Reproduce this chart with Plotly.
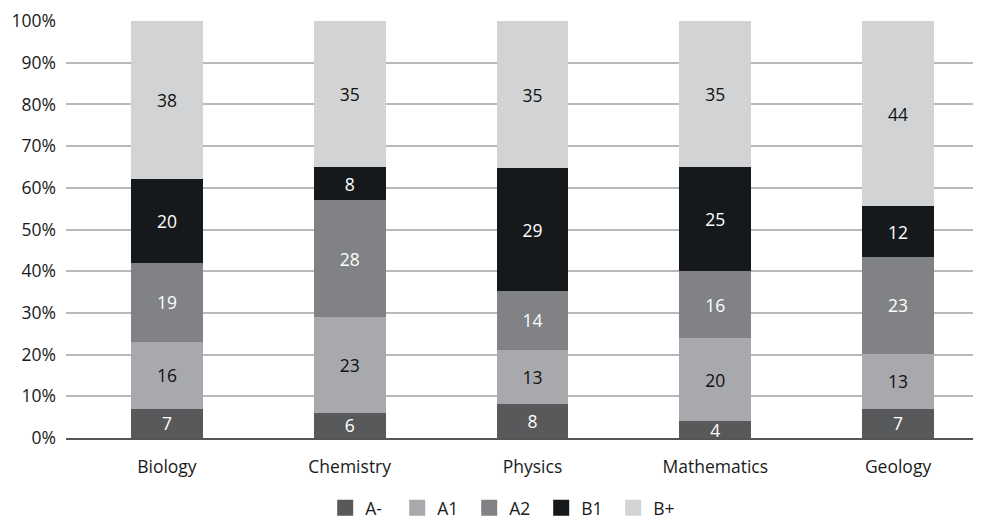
import plotly.graph_objects as go

subjects = ["Biology", "Chemistry", "Physics", "Mathematics", "Geology"]
grades = ["A-", "A1", "A2", "B1", "B+"]
a_minus = [7, 6, 8, 4, 7]
a1 = [16, 23, 13, 20, 13]
a2 = [19, 28, 14, 16, 23]
b1 = [20, 8, 29, 25, 12]
b_plus = [38, 35, 35, 35, 44]
series = [a_minus, a1, a2, b1, b_plus]
colors = ["#58595b", "#a7a9ac", "#808285", "#16191c", "#d1d3d4"]
text_colors = ["white", "#111111", "white", "white", "#111111"]
yticks = list(range(0, 101, 10))

FONT = "Open Sans"
FS = 17.5

fig = go.Figure()
for name, vals, c, tc in zip(grades, series, colors, text_colors):
    fig.add_trace(go.Bar(
        x=subjects, y=vals, name=name, marker=dict(color=c, line=dict(width=0)),
        text=[str(v) for v in vals], textposition="inside", insidetextanchor="middle",
        textfont=dict(color=tc, size=FS, family=FONT), textangle=0,
        constraintext="none", showlegend=False, hoverinfo="x+y+name",
    ))
# legend entries as square markers
for name, c in zip(grades, colors):
    fig.add_trace(go.Scatter(
        x=[None], y=[None], mode="markers", name=name,
        marker=dict(symbol="square", size=20, color=c, line=dict(width=0)),
        showlegend=True,
    ))

# the page body has an 8px margin, so the figure is sized/offset to compensate
fig.update_layout(
    barmode="stack", barnorm="percent", bargap=0.607,
    width=973, height=510,
    margin=dict(l=58, r=0, t=13, b=80, autoexpand=False),
    plot_bgcolor="white", paper_bgcolor="white",
    font=dict(family=FONT, size=FS, color="#1a1a1a"),
    uniformtext=dict(minsize=FS, mode="show"),
    legend=dict(orientation="h", xref="container", x=0.511, xanchor="center",
                yref="container", y=0.02, yanchor="middle",
                font=dict(size=FS), itemwidth=30, traceorder="normal",
                itemsizing="trace", entrywidth=27, entrywidthmode="pixels"),
    yaxis=dict(range=[0, 100], tickvals=yticks,
               ticktext=[f"{v}%" for v in yticks],
               showgrid=True, gridcolor="#b8b8b8", gridwidth=1.5, zeroline=False,
               showline=False, ticks="", tickfont=dict(size=FS)),
    xaxis=dict(showline=True, linecolor="#555555", linewidth=2, ticks="",
               tickfont=dict(size=FS), range=[-0.552, 4.454]),
)
fig.update_yaxes(ticklabelstandoff=9)
fig.update_xaxes(ticklabelstandoff=12)

fig.write_html("out.html")
